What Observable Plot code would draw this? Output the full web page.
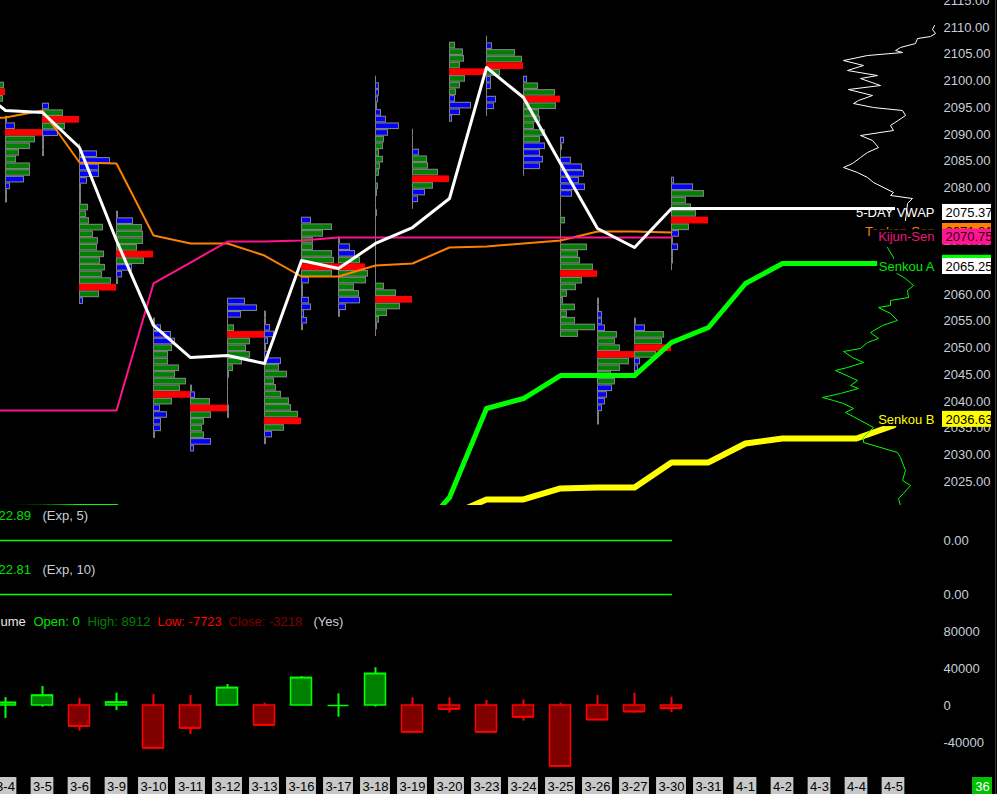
<!DOCTYPE html>
<html><head><meta charset="utf-8">
<script src="https://cdn.jsdelivr.net/npm/d3@7"></script>
<script src="https://cdn.jsdelivr.net/npm/@observablehq/plot@0.6"></script>
<style>
html,body{margin:0;padding:0;background:#000;}
#chart{position:relative;width:997px;height:794px;background:#000;overflow:hidden;}
</style></head><body><div id="chart"></div>
<script>
// ---------------- DATA ----------------
const dates = ["3-3","3-4","3-5","3-6","3-9","3-10","3-11","3-12","3-13","3-16","3-17","3-18","3-19","3-20","3-23","3-24","3-25","3-26","3-27","3-30","3-31","4-1","4-2","4-3","4-4","4-5"];

// daily volume profiles (3-3 .. 3-30): top price, row volumes top->bottom, zone (o = outside value area, v = value area, p = POC)
const profileTop = [2099.14, 2092.77, 2095.21, 2087.53, 2074.99, 2054.95, 2042.41, 2058.70, 2056.27, 2073.86, 2070.12, 2100.26, 2090.34, 2106.63, 2107.75, 2100.26, 2088.84, 2058.70, 2054.95, 2081.35];
const profileVolume = [
  [36,37,35],
  [2,10,37,30,25,14,11,25,25,19,5,2,2],
  [7,21,37,23,16,2,2,2],
  [1,18,31,20,20,8,2,2,2,9,7,10,24,14,19,18,25,21,26,23,32,37,20,4],
  [2,17,26,27,27,21,37,28,16,6,2],
  [2,8,18,22,19,15,15,26,22,33,27,37,19,7,14,8,8,2],
  [2,5,20,37,21,14,12,14,21,4],
  [18,30,14,1,7,37,23,19,23,15,6,2,1,1,1,1,2,2],
  [2,2,6,10,4,2,5,17,15,23,10,12,17,25,27,34,37,20,8,2],
  [10,31,22,12,12,31,33,37,31,8,2,2,8,10,3,6,2],
  [2,12,17,22,27,30,28,16,21,22,8,2],
  [1,4,4,3,2,6,11,24,13,9,8,4,8,5,4,1,3,2,1,1,2,1,1,1,1,1,1,1,1,1,1,9,21,37,25,12,4,2,1],
  [1,1,1,7,15,16,26,37,21,13,6,1],
  [6,14,15,11,38,16,11,7,6,22,11,3],
  [1,6,29,36,37,14,5,5,1,10,8,1],
  [4,15,32,37,33,16,17,11,22,17,22,17,20,17,1],
  [4,2,1,11,22,24,19,25,12,1,1,1,5,1,1,1,27,18,20,33,37,22,16,7,3,15,7,15,35,18],
  [2,2,5,5,8,20,18,23,37,32,23,14,18,15,10,8,5,2,2],
  [2,11,30,28,37,22,6,4,2],
  [3,22,33,15,20,25,37,18,8,2,7,2,2,1]
];
const profileZone = [
  "vpv",
  "oopvvvvvvoooo",
  "ovpvoooo",
  "ooooooooovvvvvvvvvvvvpvo",
  "oovvvvpvooo",
  "oooovvvvvvvpvooooo",
  "oovpvvvvoo",
  "ooovvpvvvvvvvvvvoo",
  "oooooooovvvvvvvvpvoo",
  "ovvvvvvpvoooooooo",
  "ooovpvvvvooo",
  "ooooooooovvvvvvvvvvvvvvvvvvvvvvvvpvvvvv",
  "oooovvvpvooo",
  "vvvvpvvvoooo",
  "oovvpvoooooo",
  "ovvpvvvvvvooooo",
  "ooooooooovvvvvvvvvvvpvvvvvvvvv",
  "ooooovvvpvvvvoooooo",
  "oovvpvooo",
  "oovvvvpvoooooo"
];

// lines (3-3 .. 3-30)
const vwap   = [2100.00, 2094.46, 2094.09, 2087.53, 2070.12, 2054.21, 2048.21, 2048.59, 2047.09, 2066.38, 2064.88, 2069.56, 2072.55, 2077.98, 2102.51, 2096.89, 2084.54, 2072.37, 2068.81, 2076.11];
const tenkan = [2092.96, 2093.15, 2094.46, 2084.72, 2084.54, 2071.06, 2069.56, 2069.56, 2067.31, 2063.38, 2063.38, 2065.44, 2065.81, 2068.81, 2069.00, 2069.56, 2070.12, 2071.81, 2071.81, 2071.62];
const kijun  = [2038.29, 2038.29, 2038.29, 2038.29, 2038.29, 2062.07, 2066.00, 2069.93, 2069.93, 2070.12, 2070.68, 2070.68, 2070.68, 2070.68, 2070.68, 2070.68, 2070.68, 2070.68, 2070.68, 2070.68];
// cloud (aligned to all dates, shifted forward)
const senkouA = [2020.12, 2020.12, 2020.15, 2020.30, 2020.32, 2012.00, null, null, null, null, null, null, 2014.30, 2022.00, 2038.66, 2040.53, 2044.84, 2044.84, 2044.84, 2051.02, 2053.83, 2062.07, 2065.81, 2065.81, 2065.81, 2065.81];
const senkouB = [null,null,null,null,null,null,null,null,null,null,null,null,null, 2018.60, 2021.63, 2021.63, 2023.69, 2023.87, 2023.87, 2028.56, 2028.56, 2032.11, 2033.05, 2033.05, 2033.05, 2035.50];

// composite profile on the right (price, volume)
const upperProfilePrice = [2110.37,2109.63,2108.88,2108.31,2107.94,2107.00,2106.26,2105.69,2105.32,2104.76,2103.82,2102.89,2101.95,2101.01,2100.45,2099.14,2098.39,2097.27,2096.33,2095.77,2095.02,2094.46,2093.52,2091.65,2090.72,2089.78,2088.84,2087.53,2086.60,2085.66,2084.54,2083.79,2082.85,2081.92,2080.98,2079.11,2078.55,2077.98,2077.05,2073.86];
const upperProfileVolume = [114,112,115,110,97,95,80,75,82,47,23,43,27,57,40,60,28,52,38,33,53,82,85,70,73,40,52,58,47,40,32,23,37,47,53,73,70,92,87,85];
const lowerProfilePrice = [2068.81,2066.94,2064.13,2063.00,2061.69,2060.76,2059.45,2058.89,2057.95,2057.58,2056.45,2055.14,2054.20,2052.89,2051.77,2051.02,2049.90,2049.34,2048.21,2047.28,2046.34,2045.78,2043.91,2042.97,2042.41,2041.47,2040.72,2040.16,2039.60,2038.66,2037.92,2036.42,2035.11,2033.24,2032.30,2030.43,2029.49,2027.06,2025.18,2024.25,2022.75,2021.81,2020.50];
const lowerProfileVolume = [67,73,75,85,93,87,88,70,70,58,70,77,62,50,58,47,40,23,32,43,27,15,37,30,38,20,2,13,23,33,25,40,53,43,43,77,80,85,82,90,83,78,80];

// cumulative delta candles (3-3 .. 3-30)
const deltaOpen  = [null, 0,0,0,0,0,0,0,0,0,0,0,0,0,0,0,0,0,0,0];
const deltaHigh  = [null, 8600, 20500, 7900, 13300, 11900, 10800, 22700, 2500, 31300, 12600, 40800, 8300, 8300, 5400, 6100, 2500, 10800, 13300, 8912];
const deltaLow   = [null, -14000, -1800, -27800, -5400, -46100, -31400, 0, -21300, 0, -12600, -1800, -29900, -8300, -28800, -16900, -65600, -15500, -8300, -7723];
const deltaClose = [null, 3000, 10800, -22400, 3300, -46100, -24500, 19100, -21300, 29900, 0, 34300, -28800, -4000, -28800, -12600, -65600, -15500, -6800, -3218];

// indicator panels (3-3 .. 3-30)
const expFive = [0,0,0,0,0,0,0,0,0,0,0,0,0,0,0,0,0,0,0,0];
const expTen  = [0,0,0,0,0,0,0,0,0,0,0,0,0,0,0,0,0,0,0,0];

const priceTicks = [2115,2110,2105,2100,2095,2090,2085,2080,2075,2070,2065,2060,2055,2050,2045,2040,2035,2030,2025];
const deltaTicks = [80000, 40000, 0, -40000];

const priceLabels = [
  {name:"Tenkan-Sen", price:2071.81, text:"2071.81", nameColor:"#ff8000", box:"#ff8000", textColor:"#000", bg:false},
  {name:"Kijun-Sen", price:2070.75, text:"2070.75", nameColor:"#f0147f", box:"#ff1493", textColor:"#2a0010", bg:true},
  {name:"5-DAY VWAP", price:2075.37, text:"2075.37", nameColor:"#ffffff", box:"#ffffff", textColor:"#000", bg:false},
  {name:"", price:2065.85, text:"", nameColor:"#00ff00", box:"#00ff00", textColor:"#000", bg:false},
  {name:"Senkou A", price:2065.25, text:"2065.25", nameColor:"#00e800", box:"#ffffff", textColor:"#000", bg:true},
  {name:"Senkou B", price:2036.63, text:"2036.63", nameColor:"#ffff00", box:"#ffff00", textColor:"#000", bg:true}
];

const deltaTitle = [
  {t:"ume", at:0, color:"#e6e6e6"},
  {t:"Open: 0", at:33, color:"#00e000"},
  {t:"High: 8912", at:87, color:"#008000"},
  {t:"Low: -7723", at:157, color:"#ff0000"},
  {t:"Close: -3218", at:228, color:"#800000"},
  {t:"(Yes)", at:313, color:"#c9cfd9"}
];

// ---------------- LAYOUT ----------------
const W = 997;
const DAY_PX = 37;
const X0_PX = 5;
const xOf = i => i - 1;                    // date index -> x units
const px = p => (p - X0_PX) / DAY_PX;      // pixel -> x units (annotations only)
const TICK = 1.25;                         // profile row size in points
const AXIS_C = "#c9cfd9";
const FONT = "'Liberation Sans', Arial, sans-serif";

function base(height, y, extra = {}) {
  return {
    width: W, height,
    marginLeft: 0, marginRight: 0, marginTop: 0, marginBottom: 0,
    x: {type: "linear", domain: [0, 24], range: [X0_PX, X0_PX + 24 * DAY_PX], axis: null},
    y: {...y, axis: null},
    color: {type: "identity"},
    style: {background: "#000", color: AXIS_C, fontFamily: FONT, fontSize: "13px", overflow: "hidden"},
    ...extra
  };
}
function mount(top, height, svg) {
  const div = document.createElement("div");
  div.style.cssText = `position:absolute;left:0;top:${top}px;width:${W}px;height:${height}px;overflow:hidden;`;
  div.appendChild(svg);
  document.getElementById("chart").appendChild(div);
}

// ---------------- MAIN PRICE PANEL ----------------
const profileRows = [];
profileTop.forEach((top, d) => {
  profileVolume[d].forEach((v, k) => {
    profileRows.push({x1: xOf(d), x2: xOf(d) + v / DAY_PX, price: top - k * TICK, zone: profileZone[d][k], v});
  });
});
const dayRows = vwap.map((v, i) => ({x: xOf(i), vwap: v, tenkan: tenkan[i], kijun: kijun[i]}));
const cloudA = dates.map((d, i) => ({x: xOf(i), y: senkouA[i]}));
const cloudB = dates.map((d, i) => ({x: xOf(i), y: senkouB[i]})).filter(r => r.y != null);
const PROFILE_BASE = px(820);
const upperProfile = upperProfilePrice.map((p, i) => ({p, v: upperProfileVolume[i]}));
const lowerProfile = lowerProfilePrice.map((p, i) => ({p, v: lowerProfileVolume[i]}));
const HALF_BOX = 1.5; // label box half height in points

const main = Plot.plot(base(505, {domain: [2020.5, 2115.06], range: [505, 0]}, {
  marks: [
    Plot.rect(profileRows, {x1: "x1", x2: "x2", y1: r => r.price - TICK / 2, y2: r => r.price + TICK / 2,
      fill: r => r.zone === "p" ? "#ff0000" : "#808080", clip: true}),
    Plot.rect(profileRows.filter(r => r.zone !== "p" && r.v >= 3), {x1: "x1", x2: "x2",
      y1: r => r.price - TICK / 2, y2: r => r.price + TICK / 2,
      fill: r => r.zone === "o" ? "#0000ff" : "#008000",
      insetLeft: 1, insetRight: 1, insetTop: 1.1, insetBottom: 1.1, clip: true}),
    Plot.line(dayRows, {x: "x", y: "tenkan", stroke: "#ff8000", strokeWidth: 2, clip: true}),
    Plot.line(dayRows, {x: "x", y: "kijun", stroke: "#ff148c", strokeWidth: 2, clip: true}),
    Plot.line(cloudB, {x: "x", y: "y", stroke: "#ffff00", strokeWidth: 6, clip: true}),
    Plot.line(cloudA, {x: "x", y: "y", stroke: "#00ff00", strokeWidth: 5, clip: true}),
    Plot.line(dayRows, {x: "x", y: "vwap", stroke: "#ffffff", strokeWidth: 3, clip: true}),
    Plot.ruleY([vwap[vwap.length - 1]], {x1: xOf(vwap.length - 1), x2: px(895), stroke: "#ffffff", strokeWidth: 3}),
    Plot.line(upperProfile, {x: d => PROFILE_BASE + d.v / DAY_PX, y: "p", stroke: "#ffffff", strokeWidth: 1}),
    Plot.line(lowerProfile, {x: d => PROFILE_BASE + d.v / DAY_PX, y: "p", stroke: "#00ff00", strokeWidth: 1}),
    Plot.text(priceTicks, {y: d => d, text: d => d.toFixed(2), frameAnchor: "left", dx: 943, textAnchor: "start", fill: AXIS_C}),
    ...priceLabels.flatMap(l => [
      ...(l.bg ? [Plot.rect([l], {x1: px(934 - l.name.length * 7.1), x2: px(937), y1: d => d.price - 1.35, y2: d => d.price + 1.35, fill: "#000"})] : []),
      Plot.text([l], {y: "price", text: "name", frameAnchor: "left", dx: 934, textAnchor: "end", fill: l.nameColor}),
      Plot.rect([l], {x1: px(942), x2: px(991), y1: d => d.price - HALF_BOX, y2: d => d.price + HALF_BOX, fill: l.box}),
      Plot.text([l], {y: "price", text: "text", frameAnchor: "left", dx: 945, textAnchor: "start", fill: l.textColor})
    ])
  ]
}));
mount(0, 505, main);

// ---------------- INDICATOR PANELS ----------------
function indicatorPanel(values, value, label, top, zeroRange, textDy) {
  const rows = values.map((v, i) => ({x: xOf(i), v}));
  const p = Plot.plot(base(50, {domain: [-1, 1], range: zeroRange}, {
    marks: [
      Plot.line(rows, {x: "x", y: "v", stroke: "#00ff00", strokeWidth: 1.3}),
      Plot.text([value], {frameAnchor: "top-left", lineAnchor: "middle", dx: -2, dy: textDy, text: d => d, textAnchor: "start", fill: "#00e000"}),
      Plot.text([label], {frameAnchor: "top-left", lineAnchor: "middle", dx: 42, dy: textDy, text: d => d, textAnchor: "start", fill: AXIS_C}),
      Plot.text([0], {y: d => d, text: d => d.toFixed(2), frameAnchor: "left", dx: 943, textAnchor: "start", fill: AXIS_C})
    ]
  }));
  mount(top, 50, p);
}
indicatorPanel(expFive, "22.89", "(Exp, 5)", 505, [50, 20], 10);
indicatorPanel(expTen, "22.81", "(Exp, 10)", 555, [50, 28], 14);

// ---------------- CUMULATIVE DELTA PANEL ----------------
const BODY = 10.5 / DAY_PX;
const candles = dates.map((d, i) => ({x: xOf(i), open: deltaOpen[i], high: deltaHigh[i], low: deltaLow[i], close: deltaClose[i]}))
  .filter(c => c.close != null);
const up = c => c.close >= c.open;
const delta = Plot.plot(base(170, {domain: [-75700, 108100], range: [170, 0]}, {
  marks: [
    Plot.ruleX(candles, {x: "x", y1: "low", y2: "high", stroke: c => up(c) ? "#00ff00" : "#ff0000", strokeWidth: 2}),
    Plot.rect(candles, {x1: c => c.x - BODY, x2: c => c.x + BODY, y1: "open", y2: "close",
      fill: c => up(c) ? "#008000" : "#800000", stroke: c => up(c) ? "#00ff00" : "#ff0000", strokeWidth: 1.5}),
    Plot.ruleY(candles, {y: "close", x1: c => c.x - BODY, x2: c => c.x + BODY, stroke: c => up(c) ? "#00ff00" : "#ff0000", strokeWidth: 1.5}),
    Plot.text(deltaTitle, {x: d => px(d.at), frameAnchor: "top", lineAnchor: "middle", dy: 16, text: "t", textAnchor: "start", fill: "color"}),
    Plot.text(deltaTicks, {y: d => d, text: d => String(d), frameAnchor: "left", dx: 943, textAnchor: "start", fill: AXIS_C})
  ]
}));
mount(605, 170, delta);

// ---------------- DATE AXIS ----------------
const labelWidth = s => [...s].reduce((w, c) => w + (c === "-" ? 4.3 : 7.2), 0) + 4;
const dateRows = dates.map((d, i) => ({x: xOf(i), d, hw: labelWidth(d) / 2 / DAY_PX}));
const axis = Plot.plot(base(19, {domain: [0, 1], range: [19, 2]}, {
  marks: [
    Plot.rect(dateRows, {x1: r => r.x - r.hw, x2: r => r.x + r.hw, y1: 0, y2: 1, fill: "#c8c8c8"}),
    Plot.text(dateRows, {x: "x", y: 0.5, text: "d", fill: "#000", dy: 1}),
    Plot.rect([36], {x1: px(972), x2: px(992), y1: 0, y2: 1, fill: "#00c000"}),
    Plot.text([36], {x: px(982), y: 0.5, text: d => String(d), fill: "#ffffff", dy: 1})
  ]
}));
mount(775, 19, axis);

// right border
const border = document.createElement("div");
border.style.cssText = "position:absolute;left:995px;top:0;width:1px;height:794px;background:#3a3a3a;";
document.getElementById("chart").appendChild(border);
</script>
</body></html>
